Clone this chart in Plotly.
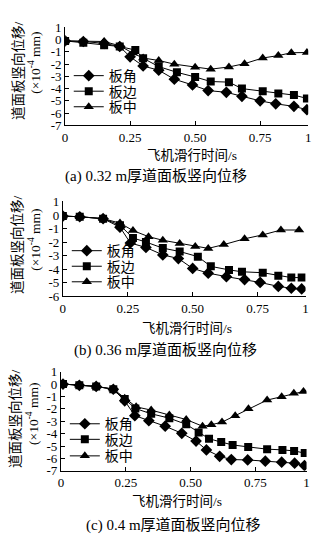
import plotly.graph_objects as go

# ---------------- data ----------------
# x tick labels (the last tick is labelled "1" at the axis end)
x_tick_text = ["0", "0.25", "0.50", "0.75", "1"]
series_names = ["板角", "板边", "板中"]
captions = ["(a) 0.32 m厚道面板竖向位移", "(b) 0.36 m厚道面板竖向位移", "(c) 0.4 m厚道面板竖向位移"]

# panel (a) 0.32 m
a_corner_x = [0, 0.07, 0.15, 0.21, 0.25, 0.30, 0.36, 0.42, 0.49, 0.55, 0.62, 0.68, 0.75, 0.81, 0.88, 0.93]
a_corner_y = [-0.1, -0.15, -0.3, -0.56, -1.4, -2.15, -2.5, -3.23, -3.7, -4.16, -4.3, -4.63, -5.0, -5.24, -5.45, -5.72]
a_edge_x = [0, 0.07, 0.15, 0.21, 0.27, 0.30, 0.36, 0.43, 0.50, 0.56, 0.63, 0.68, 0.76, 0.82, 0.88, 0.93]
a_edge_y = [-0.1, -0.25, -0.45, -0.56, -0.85, -1.52, -2.2, -2.67, -3.05, -3.42, -3.47, -4.0, -4.21, -4.4, -4.53, -4.8]
a_mid_x = [0, 0.07, 0.15, 0.21, 0.26, 0.30, 0.36, 0.42, 0.50, 0.56, 0.63, 0.69, 0.76, 0.82, 0.87, 0.93]
a_mid_y = [-0.1, -0.1, -0.15, -0.5, -1.1, -1.5, -1.7, -2.0, -2.25, -2.41, -2.23, -1.96, -1.5, -1.3, -1.07, -1.05]

# panel (b) 0.36 m
b_corner_x = [0, 0.065, 0.155, 0.22, 0.26, 0.32, 0.385, 0.445, 0.50, 0.56, 0.63, 0.70, 0.76, 0.83, 0.88, 0.92]
b_corner_y = [-0.08, -0.13, -0.27, -0.9, -2.07, -2.4, -2.95, -3.22, -3.95, -4.3, -4.56, -4.78, -4.99, -5.28, -5.42, -5.47]
b_edge_x = [0, 0.065, 0.155, 0.22, 0.27, 0.32, 0.385, 0.45, 0.52, 0.57, 0.64, 0.69, 0.77, 0.83, 0.88, 0.92]
b_edge_y = [-0.08, -0.13, -0.27, -0.75, -1.7, -2.0, -2.45, -2.7, -3.08, -3.8, -4.06, -4.2, -4.27, -4.49, -4.63, -4.63]
b_mid_x = [0, 0.065, 0.155, 0.22, 0.27, 0.33, 0.385, 0.45, 0.51, 0.56, 0.62, 0.70, 0.77, 0.84, 0.91]
b_mid_y = [-0.08, -0.13, -0.27, -0.6, -1.15, -1.6, -1.87, -2.1, -2.33, -2.47, -2.19, -1.76, -1.47, -1.11, -1.11]

# panel (c) 0.4 m
c_corner_x = [0.008, 0.071, 0.136, 0.202, 0.246, 0.285, 0.339, 0.402, 0.466, 0.521, 0.561, 0.612, 0.657, 0.72, 0.788, 0.851, 0.901, 0.939]
c_corner_y = [0, -0.1, -0.19, -0.42, -1.35, -2.55, -2.95, -3.4, -3.97, -4.6, -5.31, -5.83, -6.09, -6.12, -6.22, -6.3, -6.38, -6.57]
c_edge_x = [0.008, 0.071, 0.136, 0.202, 0.246, 0.287, 0.348, 0.418, 0.483, 0.531, 0.571, 0.618, 0.662, 0.722, 0.795, 0.854, 0.899, 0.94]
c_edge_y = [0, -0.1, -0.19, -0.42, -1.2, -1.97, -2.4, -2.75, -3.25, -3.9, -4.41, -4.68, -4.91, -5.07, -5.25, -5.31, -5.39, -5.57]
c_mid_x = [0.008, 0.071, 0.136, 0.202, 0.246, 0.29, 0.348, 0.418, 0.483, 0.546, 0.58, 0.621, 0.672, 0.723, 0.795, 0.851, 0.898, 0.935]
c_mid_y = [0, -0.1, -0.19, -0.4, -1.15, -1.84, -2.1, -2.5, -2.86, -3.4, -3.28, -3.07, -2.56, -2.0, -1.29, -1.02, -0.75, -0.6]

# axis extents
x_ends = [0.935, 0.935, 0.947]
y_mins = [-7, -6, -7]

# ---------------- layout helpers ----------------
W, H = 323, 544
panels = [
    dict(x0=63.3, x1=311.0, ytop=21.0, ybot=121.7,
         xt_y=153, xt_x=193, cap_y=174, cap_x=156,
         yt1=(15, 65), yt2=(32, 57), leg=[71, 87, 103], leg_x=67),
    dict(x0=61.0, x1=308.3, ytop=200.0, ybot=297.3,
         xt_y=331, xt_x=187, cap_y=353, cap_x=166,
         yt1=(15, 244), yt2=(32, 239), leg=[251, 267, 283], leg_x=65),
    dict(x0=59.0, x1=309.3, ytop=375.0, ybot=477.0,
         xt_y=509, xt_x=177, cap_y=533, cap_x=174,
         yt1=(13, 423), yt2=(30, 418), leg=[429, 445, 462], leg_x=63),
]
data = [
    [(a_corner_x, a_corner_y), (a_edge_x, a_edge_y), (a_mid_x, a_mid_y)],
    [(b_corner_x, b_corner_y), (b_edge_x, b_edge_y), (b_mid_x, b_mid_y)],
    [(c_corner_x, c_corner_y), (c_edge_x, c_edge_y), (c_mid_x, c_mid_y)],
]
symbols = ["diamond", "square", "triangle-up"]
msizes = [9, 8, 9]

def px(x):
    return x / W

def py(y):
    return 1 - y / H

fig = go.Figure()
CJK = "Liberation Serif, Noto Sans CJK SC"
layout = dict(
    width=W, height=H, margin=dict(l=0, r=0, t=0, b=0),
    paper_bgcolor="white", plot_bgcolor="white", showlegend=True,
    font=dict(family=CJK, size=13, color="black"),
)
annotations = []
leg_idx = 0
for i, p in enumerate(panels):
    xa = "xaxis" if i == 0 else f"xaxis{i+1}"
    ya = "yaxis" if i == 0 else f"yaxis{i+1}"
    xr = "x" if i == 0 else f"x{i+1}"
    yr = "y" if i == 0 else f"y{i+1}"
    for j, (xs, ys) in enumerate(data[i]):
        leg_idx += 1
        lname = "legend" if leg_idx == 1 else f"legend{leg_idx}"
        fig.add_trace(go.Scatter(
            x=xs, y=ys, mode="lines+markers", name=series_names[j],
            xaxis=xr, yaxis=yr, legend=lname,
            line=dict(color="black", width=1),
            marker=dict(symbol=symbols[j], size=msizes[j], color="black"),
        ))
        layout[lname] = dict(
            x=px(p["leg_x"]), y=py(p["leg"][j]), xanchor="left", yanchor="middle",
            bgcolor="rgba(0,0,0,0)", borderwidth=0,
            font=dict(family=CJK, size=14, color="black"),
            itemwidth=30, tracegroupgap=0,
        )
    ymin = y_mins[i]
    yvals = list(range(1, ymin - 1, -1))
    layout[xa] = dict(
        domain=[px(p["x0"]), px(p["x1"])], anchor=yr,
        range=[0, x_ends[i]], tickvals=[0, 0.25, 0.5, 0.75, x_ends[i]],
        ticktext=x_tick_text, ticks="inside", ticklen=4, tickcolor="black",
        showline=True, linecolor="black", linewidth=1, showgrid=False, zeroline=False,
        tickfont=dict(family="Liberation Serif", size=13, color="black"),
    )
    layout[ya] = dict(
        domain=[py(p["ybot"]), py(p["ytop"])], anchor=xr,
        range=[ymin, 1], tickvals=yvals, ticktext=[str(v) for v in yvals],
        ticks="inside", ticklen=4, tickcolor="black",
        showline=True, linecolor="black", linewidth=1, showgrid=False, zeroline=False,
        tickfont=dict(family="Liberation Serif", size=13, color="black"),
    )
    annotations.append(dict(x=px(p["xt_x"]), y=py(p["xt_y"]), xref="paper", yref="paper",
                            text="飞机滑行时间/s", showarrow=False, xanchor="center", yanchor="middle",
                            font=dict(family=CJK, size=13.5, color="black")))
    annotations.append(dict(x=px(p["cap_x"]), y=py(p["cap_y"]), xref="paper", yref="paper",
                            text=captions[i], showarrow=False, xanchor="center", yanchor="middle",
                            font=dict(family=CJK, size=15, color="black")))
    annotations.append(dict(x=px(p["yt1"][0]), y=py(p["yt1"][1]), xref="paper", yref="paper",
                            text="道面板竖向位移/", textangle=-90, showarrow=False,
                            xanchor="center", yanchor="middle",
                            font=dict(family=CJK, size=13.5, color="black")))
    annotations.append(dict(x=px(p["yt2"][0]), y=py(p["yt2"][1]), xref="paper", yref="paper",
                            text="(×10<sup>-4</sup> mm)", textangle=-90, showarrow=False,
                            xanchor="center", yanchor="middle",
                            font=dict(family=CJK, size=13.5, color="black")))

layout["annotations"] = annotations
fig.update_layout(**layout)
# remove the page's default body margin so the figure sits at the window origin
fig.write_html("out.html",
               config={"displayModeBar": False},
               post_script="document.body.style.margin='0';document.body.style.overflow='hidden';")
